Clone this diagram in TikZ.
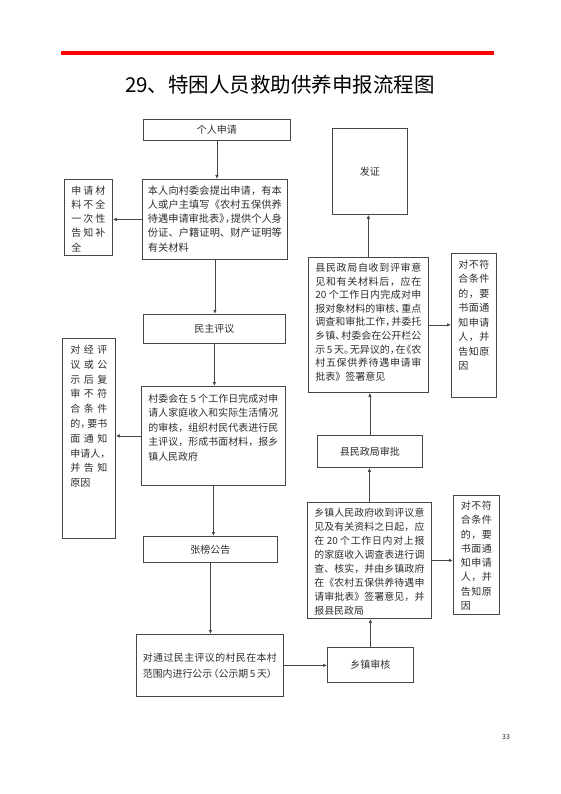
\documentclass[tikz,border=0pt]{standalone}
\usepackage{fontspec}
\setmainfont{Noto Sans CJK SC}
\usetikzlibrary{arrows.meta}

\definecolor{boxline}{RGB}{70,70,70}
\definecolor{boxtext}{RGB}{45,45,45}

% glue between hanzi, so that forced lines come out justified
\XeTeXinterchartokenstate=1
\newXeTeXintercharclass\hanzi
\newXeTeXintercharclass\closep
\newXeTeXintercharclass\openp
\count255="4E00
\loop\XeTeXcharclass\count255=\hanzi
  \ifnum\count255<"9FFF\advance\count255 by 1\repeat
\XeTeXcharclass"FF0C=\closep
\XeTeXcharclass"3002=\closep
\XeTeXcharclass"3001=\closep
\XeTeXcharclass"300B=\closep
\XeTeXcharclass"FF09=\closep
\XeTeXcharclass"300A=\openp
\XeTeXcharclass"FF08=\openp
\def\hzglue{\nobreak\hskip0pt plus 3pt\relax}
\def\hzshrink{\nobreak\hskip0pt plus 3pt minus .45em\relax}
\XeTeXinterchartoks\hanzi\hanzi={\hzglue}
\XeTeXinterchartoks\hanzi\closep={\hzglue}
\XeTeXinterchartoks\closep\hanzi={\hzshrink}
\XeTeXinterchartoks\hanzi\openp={\hzshrink}
\XeTeXinterchartoks\openp\hanzi={\hzglue}
\XeTeXinterchartoks\closep\openp={\hzshrink\hzshrink}
\XeTeXinterchartoks\closep\closep={\hzshrink}

\begin{document}
\begin{tikzpicture}[x=1pt,y=-1pt,
    every node/.style={text=boxtext},
    flowbox/.style={draw=boxline,line width=0.8pt,anchor=north west,inner sep=0pt},
    namebox/.style={flowbox,font=\fontsize{10}{12}\selectfont},
    textbox/.style={flowbox,align=justify},
    link/.style={draw=boxline,line width=0.8pt,-{Latex[length=4pt,width=3.5pt]}}
]
\useasboundingbox (0,0) rectangle (561,794);

% header
\draw[red,line width=4.5pt] (61,53) -- (494,53);
\node[font=\fontsize{20.5}{24}\selectfont,text=black] (title) at (280,85)
    {29、特困人员救助供养申报流程图};

% left column
\node[namebox,minimum width=147pt,minimum height=21pt] (apply) at (143,119) {个人申请};
\node[textbox,text width=134pt,inner xsep=5.5pt,text height=15pt,text depth=65pt,
    font=\fontsize{10.2}{14.2}\selectfont] (submit) at (142,179)
    {本人向村委会提出申请，有本\linebreak
     人或户主填写《农村五保供养\linebreak
     待遇申请审批表》，提供个人身\linebreak
     份证、户籍证明、财产证明等\linebreak
     有关材料};
\node[textbox,text width=34pt,inner xsep=7pt,text height=15pt,text depth=61pt,
    font=\fontsize{10}{14.2}\selectfont] (lack) at (64,179)
    {申请材\linebreak 料不全\linebreak 一次性\linebreak 告知补\linebreak 全};
\node[namebox,minimum width=142pt,minimum height=29pt] (review) at (143,314) {民主评议};
\node[textbox,text width=130pt,inner xsep=7pt,text height=16pt,text depth=83pt,
    font=\fontsize{9.9}{14.4}\selectfont] (village) at (141,386)
    {村委会在 5 个工作日完成对申\linebreak
     请人家庭收入和实际生活情况\linebreak
     的审核，组织村民代表进行民\linebreak
     主评议，形成书面材料，报乡\linebreak
     镇人民政府};
\node[textbox,text width=37pt,inner xsep=8pt,text height=15pt,text depth=185pt,
    font=\fontsize{10}{14.8}\selectfont] (refuse) at (62,338)
    {对经评\linebreak 议或公\linebreak 示后复\linebreak 审不符\linebreak 合条件\linebreak
     的，要书\linebreak 面通知\linebreak 申请人，\linebreak 并告知\linebreak 原因};
\node[namebox,minimum width=134pt,minimum height=26pt] (post) at (143,536) {张榜公告};
\node[textbox,text width=134pt,inner xsep=6.5pt,minimum height=62pt,
    font=\fontsize{9.9}{16}\selectfont] (publicity) at (136,634)
    {对通过民主评议的村民在本村\linebreak
     范围内进行公示（公示期\,5\,天）};

% right column
\node[namebox,minimum width=86pt,minimum height=35pt] (town) at (327,647) {乡镇审核};
\node[textbox,text width=110pt,inner xsep=7pt,text height=14pt,text depth=102pt,
    font=\fontsize{9.9}{14}\selectfont] (townrev) at (307,502)
    {乡镇人民政府收到评议意\linebreak
     见及有关资料之日起，应\linebreak
     在 20 个工作日内对上报\linebreak
     的家庭收入调查表进行调\linebreak
     查、核实，并由乡镇政府\linebreak
     在《农村五保供养待遇申\linebreak
     请审批表》签署意见，并\linebreak
     报县民政局};
\node[textbox,text width=31pt,inner xsep=7.5pt,text height=14pt,text depth=105pt,
    font=\fontsize{10}{14.3}\selectfont] (townno) at (453,495)
    {对不符\linebreak 合条件\linebreak 的，要\linebreak 书面通\linebreak
     知申请\linebreak 人，并\linebreak 告知原\linebreak 因};
\node[namebox,minimum width=105pt,minimum height=32pt] (county) at (317,435) {县民政局审批};
\node[textbox,text width=106pt,inner xsep=7pt,text height=14pt,text depth=121pt,
    font=\fontsize{10}{13.6}\selectfont] (countyrev) at (308,257)
    {县民政局自收到评审意\linebreak
     见和有关材料后，应在\linebreak
     20 个工作日内完成对申\linebreak
     报对象材料的审核、重点\linebreak
     调查和审批工作，并委托\linebreak
     乡镇、村委会在公开栏公\linebreak
     示 5 天。无异议的，在《农\linebreak
     村五保供养待遇申请审\linebreak
     批表》签署意见};
\node[textbox,text width=31pt,inner xsep=7pt,text height=15pt,text depth=129pt,
    font=\fontsize{10}{14.5}\selectfont] (countyno) at (451,253)
    {对不符\linebreak 合条件\linebreak 的，要\linebreak 书面通\linebreak
     知申请\linebreak 人，并\linebreak 告知原\linebreak 因};
\node[namebox,minimum width=75pt,minimum height=86pt] (issue) at (332,128) {发证};

\node[font=\fontsize{7}{8}\selectfont] (pageno) at (506,737) {33};

% connectors
\draw[link] (apply.south) -- (apply.south |- submit.north);
\draw[link] (submit.west) -- (submit.west -| lack.east);
\draw[link] (submit.south) -- (submit.south |- review.north);
\draw[link] (review.south) -- (review.south |- village.north);
\draw[link] (village.west) -- (village.west -| refuse.east);
\draw[link] (village.south) -- (village.south |- post.north);
\draw[link] (post.south) -- (post.south |- publicity.north);
\draw[link] (publicity.east) -- (publicity.east -| town.west);
\draw[link] (town.north) -- (town.north |- townrev.south);
\draw[link] (townrev.east) -- (townrev.east -| townno.west);
\draw[link] (townrev.north) -- (townrev.north |- county.south);
\draw[link] (county.north) -- (county.north |- countyrev.south);
\draw[link] (countyrev.east) -- (countyrev.east -| countyno.west);
\draw[link] (countyrev.north) -- (countyrev.north |- issue.south);

\end{tikzpicture}
\end{document}
